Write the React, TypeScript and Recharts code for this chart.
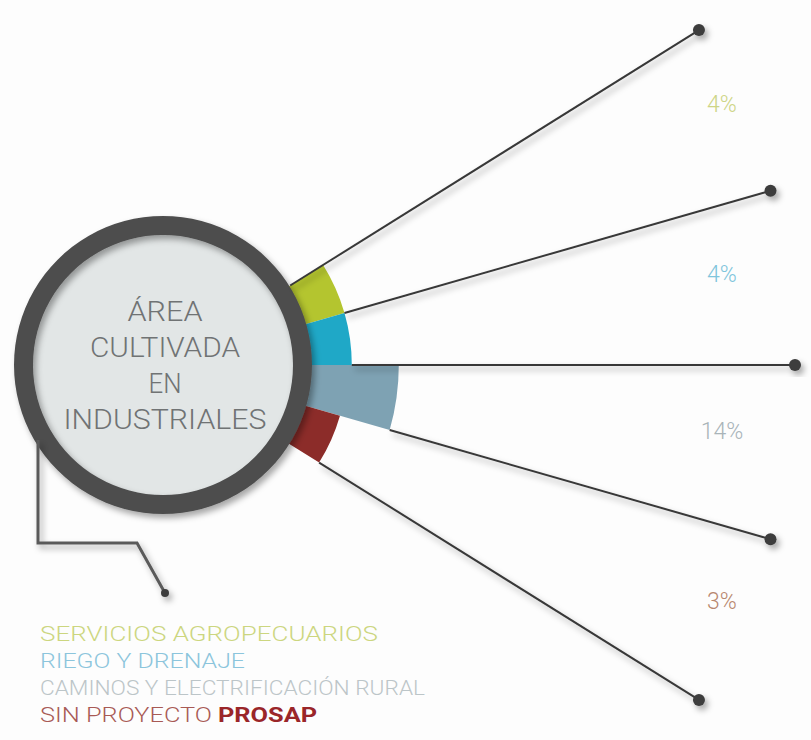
import React from 'react';
import { PieChart, Pie, Cell, Legend } from 'recharts';

// data
const categories = ['SERVICIOS AGROPECUARIOS', 'RIEGO Y DRENAJE', 'CAMINOS Y ELECTRIFICACIÓN RURAL', 'SIN PROYECTO'];
const shares = [4, 4, 14, 3];
const shareLabels = ['4%', '4%', '14%', '3%'];
const centerTitle = ['ÁREA', 'CULTIVADA', 'EN', 'INDUSTRIALES'];
const emphasis = 'PROSAP';

// styles
const segmentColors = ['#b4c52f', '#1fa8c7', '#7ea2b3', '#8c2c29'];
const shareColors = ['#cdd586', '#80c5dc', '#a9b4b9', '#b8876f'];
const legendColors = ['#ccd67f', '#8cc5dc', '#bcc5c8', '#a85a55'];
const legendWidths = [338, 205, 385, 172];
const titleWidths = [75, 150, 33, 203];

const W = 811;
const H = 740;
const CX = 163;
const CY = 365;
const RING_IN = 130;
const RING_OUT = 149;
const SEG_TOP = 32;
const SEG_SPAN = 16;
const GUIDE_R = 632;
const LABEL_DX = 559;
const RAD = Math.PI / 180;
const FONT = "Roboto, 'Liberation Sans', Arial, sans-serif";

const radiusFor = (v: number) => 170 + 4.7 * v;

const polar = (cx: number, cy: number, r: number, a: number) => ({
  x: cx + r * Math.cos(-a * RAD),
  y: cy + r * Math.sin(-a * RAD),
});

const renderShare = (i: number) => (props: any) => {
  const { cx, cy, midAngle } = props;
  const y = cy - LABEL_DX * Math.tan(midAngle * RAD) - 12;
  return (
    <text x={cx + LABEL_DX} y={y} textAnchor="middle" dominantBaseline="central"
      fill={shareColors[i]} fontSize={23} fontFamily={FONT} fontWeight={300}>
      {shareLabels[i]}
    </text>
  );
};

// radial guide lines with dots, one per segment boundary
const renderGuide = (props: any) => {
  const { cx, cy, midAngle, index } = props;
  const startR = index === 0 ? RING_OUT + 1 : radiusFor(shares[index - 1]);
  const a = polar(cx, cy, startR, midAngle);
  const b = polar(cx, cy, GUIDE_R, midAngle);
  return (
    <g filter="url(#softShadow)">
      <line x1={a.x} y1={a.y} x2={b.x} y2={b.y} stroke="#383838" strokeWidth={2} />
      <circle cx={b.x} cy={b.y} r={6} fill="#3c3c3c" />
    </g>
  );
};

const renderCenter = (props: any) => {
  const { cx, cy } = props;
  const pts = [
    [cx - 125, cy + 75],
    [cx - 125, cy + 178],
    [cx - 26, cy + 178],
    [cx + 2, cy + 228],
  ];
  return (
    <g>
      <defs>
        <filter id="softShadow" x="-50%" y="-50%" width="200%" height="200%">
          <feDropShadow dx={3} dy={4} stdDeviation={3} floodColor="#000" floodOpacity={0.35} />
        </filter>
      </defs>
      <g filter="url(#softShadow)">
        <polyline points={pts.map((p) => p.join(',')).join(' ')} fill="none" stroke="#5a5a5a" strokeWidth={3} />
        <circle cx={pts[3][0]} cy={pts[3][1]} r={4} fill="#3c3c3c" />
      </g>
      {centerTitle.map((t, i) => (
        <text key={t} x={cx + 2} y={cy + (i - 1.5) * 36} textAnchor="middle" dominantBaseline="central"
          textLength={titleWidths[i]} lengthAdjust="spacingAndGlyphs"
          fill="#707374" fontSize={28} fontFamily={FONT} fontWeight={300}>
          {t}
        </text>
      ))}
    </g>
  );
};

const renderLegend = () => (
  <svg width={W} height={130} style={{ display: 'block' }}>
    {categories.map((c, i) => (
      <text key={c} x={40} y={31 + i * 27} textLength={legendWidths[i]} lengthAdjust="spacingAndGlyphs"
        fill={legendColors[i]} fontSize={21} fontFamily={FONT} fontWeight={300}>
        {c}
      </text>
    ))}
    <text x={218} y={31 + 3 * 27} textLength={99} lengthAdjust="spacingAndGlyphs"
      fill="#9a2629" fontSize={21} fontFamily={FONT} fontWeight={700}>
      {emphasis}
    </text>
  </svg>
);

const guideData = [...shares, 0].map((_, i) => ({ name: `g${i}`, value: 1 }));

const App = () => {
  return (
    <div style={{ position: 'absolute', left: 0, top: 0, width: W, height: H, background: '#fdfdfd' }}>
      <PieChart width={W} height={H} margin={{ top: 0, right: 0, bottom: 0, left: 0 }}>
        {shares.map((v, i) => (
          <Pie
            key={categories[i]}
            data={[{ name: categories[i], value: v }]}
            dataKey="value"
            cx={CX}
            cy={CY}
            startAngle={SEG_TOP - SEG_SPAN * i}
            endAngle={SEG_TOP - SEG_SPAN * (i + 1)}
            innerRadius={RING_IN + 10}
            outerRadius={radiusFor(v)}
            fill={segmentColors[i]}
            stroke="none"
            label={renderShare(i)}
            labelLine={false}
            isAnimationActive={false}
          />
        ))}
        <Pie
          data={[{ name: 'area', value: 1 }]}
          dataKey="value"
          cx={CX}
          cy={CY}
          innerRadius={0}
          outerRadius={RING_IN + 1}
          fill="#e2e6e6"
          stroke="none"
          label={renderCenter}
          labelLine={false}
          legendType="none"
          isAnimationActive={false}
        />
        <Pie
          data={[{ name: 'ring', value: 1 }]}
          dataKey="value"
          cx={CX}
          cy={CY}
          innerRadius={RING_IN}
          outerRadius={RING_OUT}
          stroke="none"
          legendType="none"
          isAnimationActive={false}
        >
          <Cell fill="#4e4e4e" filter="url(#softShadow)" />
        </Pie>
        <Pie
          data={guideData}
          dataKey="value"
          cx={CX}
          cy={CY}
          startAngle={SEG_TOP + SEG_SPAN / 2}
          endAngle={-SEG_TOP - SEG_SPAN / 2}
          innerRadius={RING_OUT}
          outerRadius={RING_OUT + 1}
          fill="none"
          stroke="none"
          label={renderGuide}
          labelLine={false}
          legendType="none"
          isAnimationActive={false}
        />
        <Legend content={renderLegend} wrapperStyle={{ left: 0, top: 610, bottom: 'auto', width: W }} />
      </PieChart>
    </div>
  );
};

export default App;
